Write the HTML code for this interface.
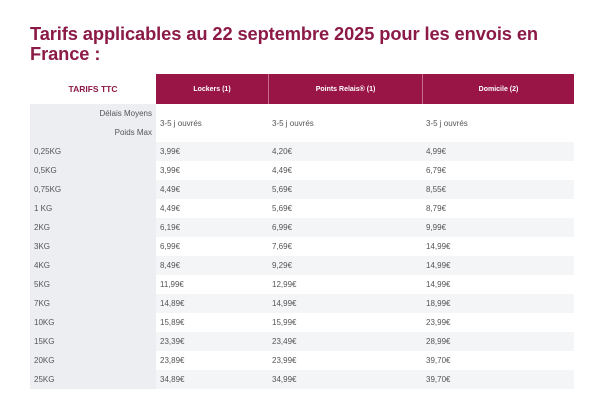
<!DOCTYPE html>
<html><head><meta charset="utf-8"><style>
*{margin:0;padding:0;box-sizing:border-box}
body{width:600px;height:409px;background:#fff;font-family:"Liberation Sans",sans-serif;position:relative;overflow:hidden}
.t{position:absolute;left:30px;top:24px;font-size:18.3px;font-weight:bold;color:#8c1a47;line-height:20px;letter-spacing:-0.1px}
.a{position:absolute}
.c{position:absolute;font-size:8px;color:#555;white-space:nowrap}
.h{position:absolute;top:74px;height:30px;background:#981545;color:#fff;font-size:7px;font-weight:bold;display:flex;align-items:center;justify-content:center}
</style></head><body>
<div class="t">Tarifs applicables au 22 septembre 2025 pour les envois en<br>France :</div>
<div class="a" style="left:30px;top:74px;width:126px;height:30px;background:#fff;color:#8c1a47;font-size:8.5px;font-weight:bold;display:flex;align-items:center;justify-content:center">TARIFS TTC</div>
<div class="h" style="left:156px;width:112px">Lockers (1)</div>
<div class="h" style="left:268px;width:154px;border-left:1px solid #c86a8c">Points Relais® (1)</div>
<div class="h" style="left:422px;width:152px;border-left:1px solid #c86a8c">Domicile (2)</div>
<div class="a" style="left:30px;top:104px;width:126px;height:38px;background:#eceef2"></div>
<div class="c" style="right:448px;top:109px">Délais Moyens</div>
<div class="c" style="right:448px;top:128px">Poids Max</div>
<div class="c" style="left:160px;top:119px">3-5 j ouvrés</div>
<div class="c" style="left:272px;top:119px">3-5 j ouvrés</div>
<div class="c" style="left:426px;top:119px">3-5 j ouvrés</div>
<div id="rows"></div>
<script>
var d=[["0,25KG","3,99€","4,20€","4,99€"],["0,5KG","3,99€","4,49€","6,79€"],["0,75KG","4,49€","5,69€","8,55€"],["1 KG","4,49€","5,69€","8,79€"],["2KG","6,19€","6,99€","9,99€"],["3KG","6,99€","7,69€","14,99€"],["4KG","8,49€","9,29€","14,99€"],["5KG","11,99€","12,99€","14,99€"],["7KG","14,89€","14,99€","18,99€"],["10KG","15,89€","15,99€","23,99€"],["15KG","23,39€","23,49€","28,99€"],["20KG","23,89€","23,99€","39,70€"],["25KG","34,89€","34,99€","39,70€"]];
var h="";d.forEach(function(r,i){var y=142+i*19;
h+='<div class="a" style="left:30px;top:'+y+'px;width:126px;height:19px;background:#eceef2"></div>';
if(i%2==0)h+='<div class="a" style="left:156px;top:'+y+'px;width:418px;height:19px;background:#f4f5f7"></div>';
var xs=[34,160,272,426];r.forEach(function(v,j){h+='<div class="c" style="left:'+xs[j]+'px;top:'+(y+5)+'px">'+v+'</div>'})});
document.getElementById("rows").innerHTML=h;
</script>
</body></html>
